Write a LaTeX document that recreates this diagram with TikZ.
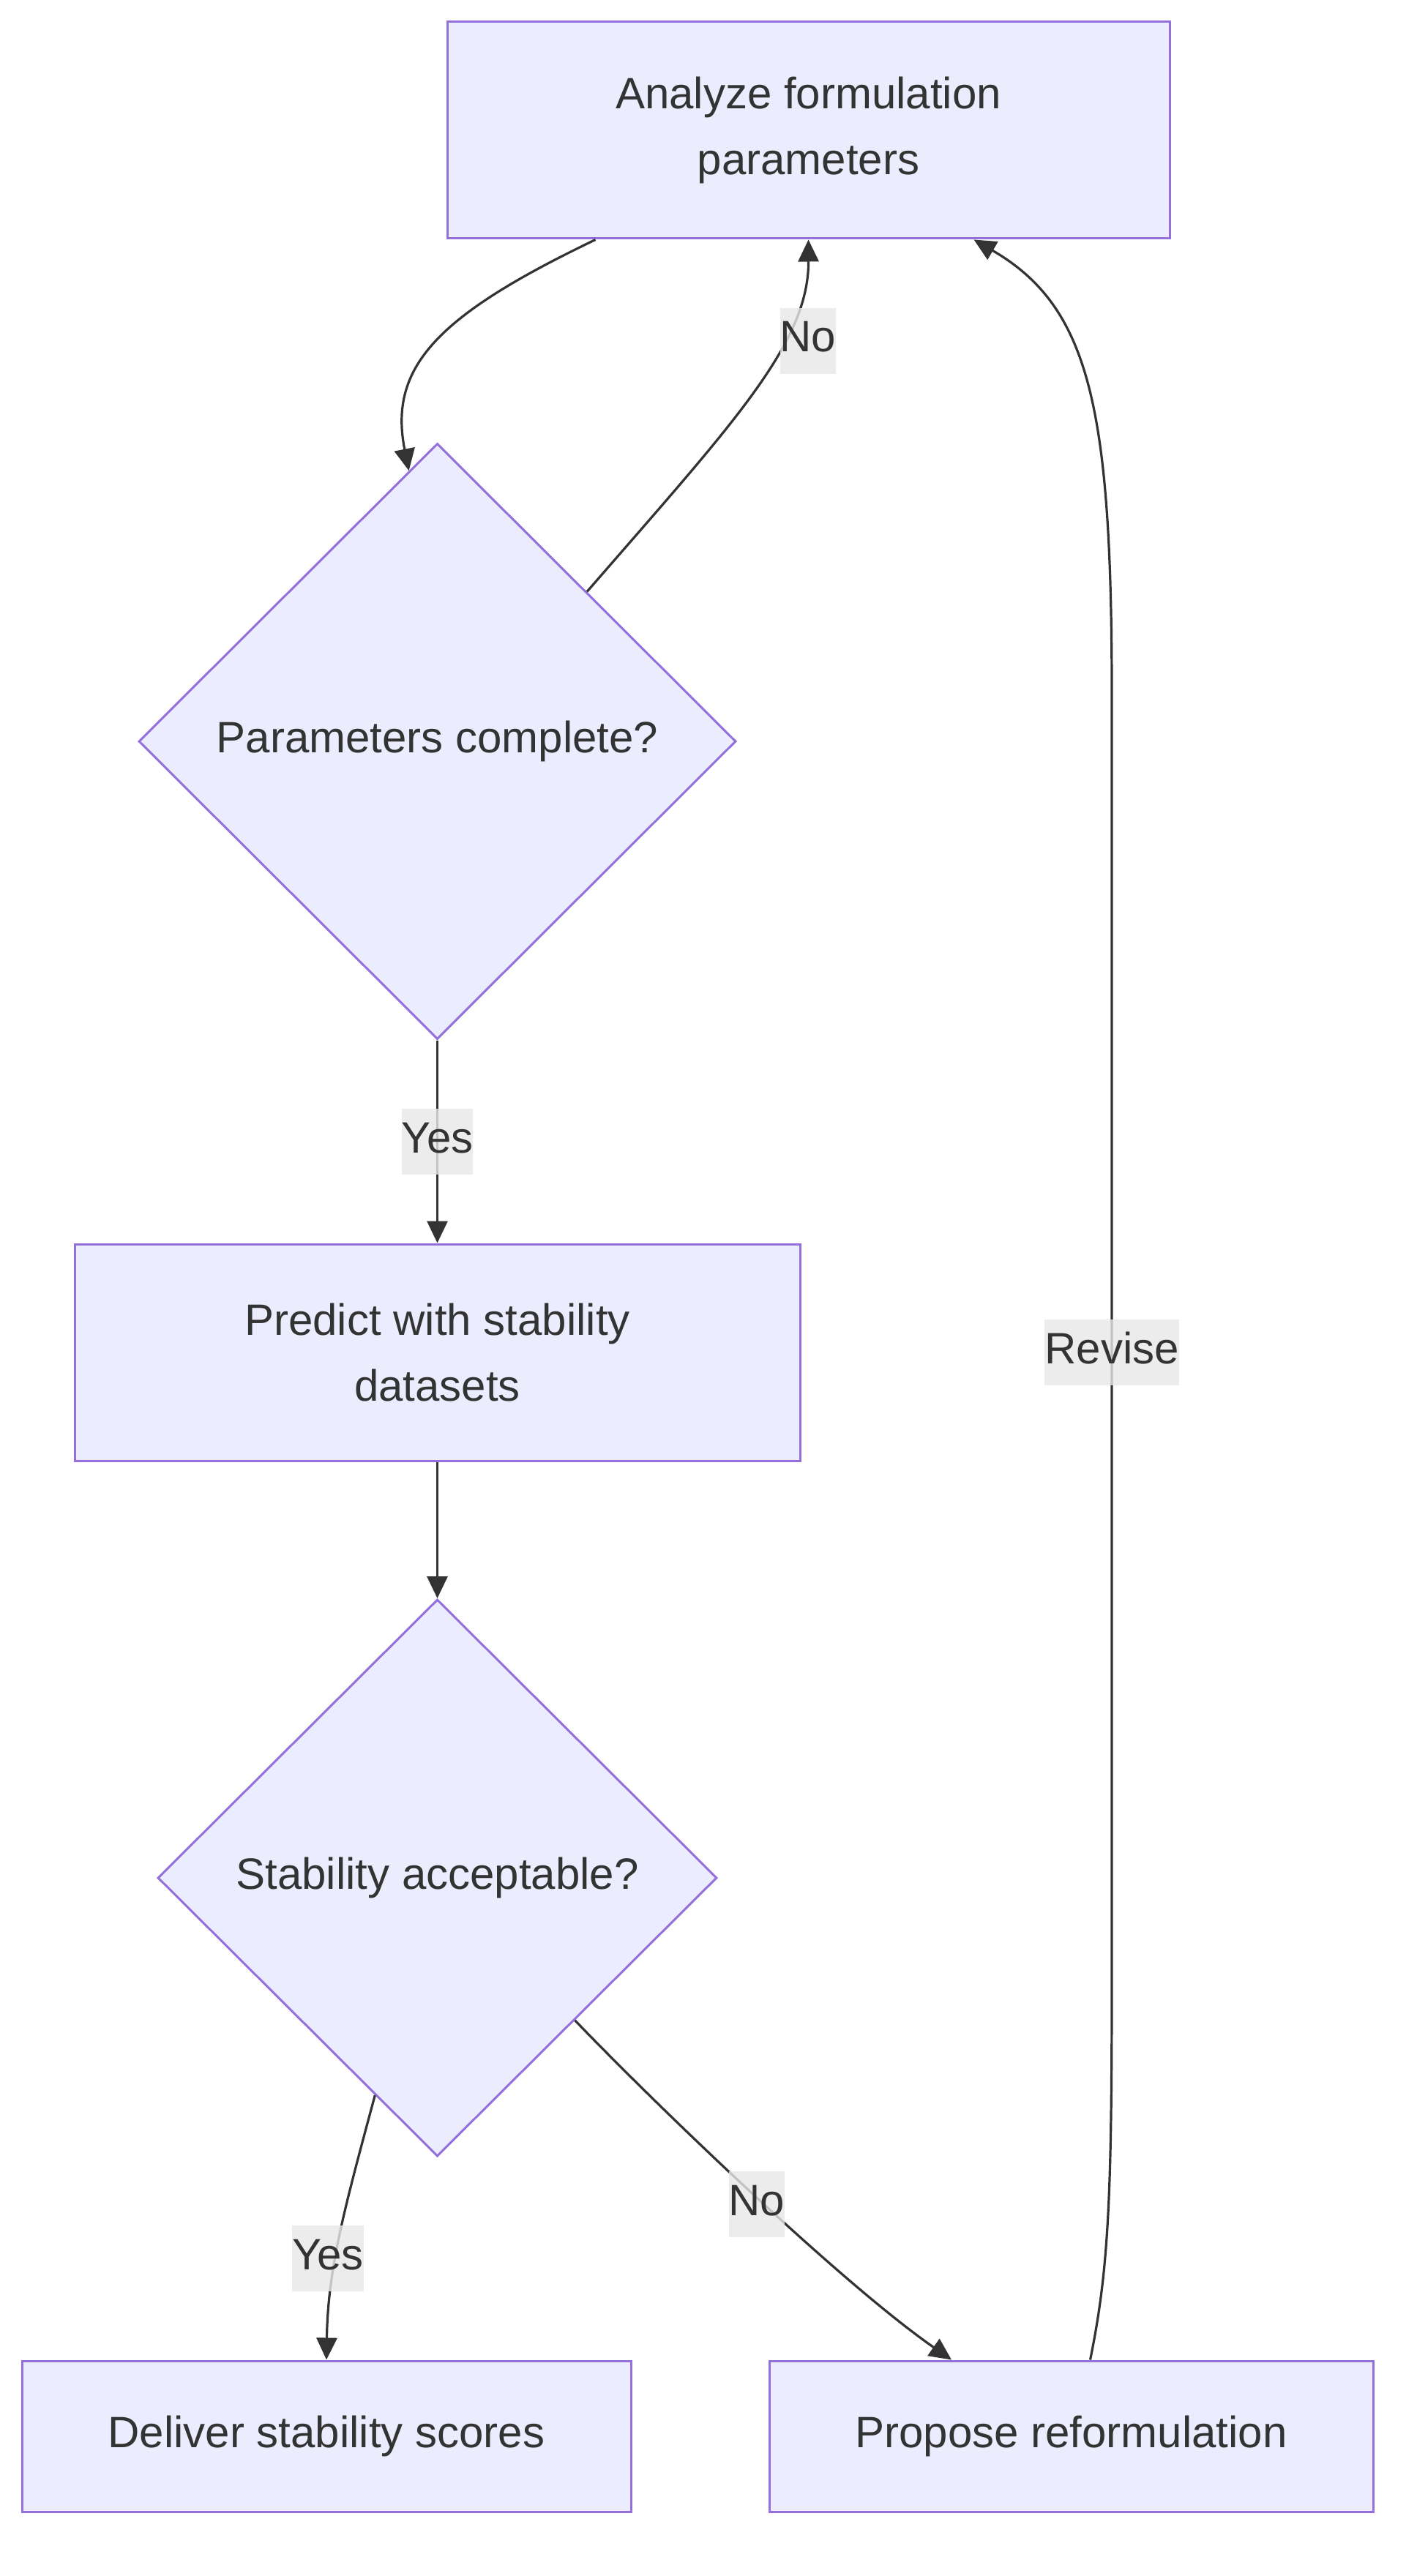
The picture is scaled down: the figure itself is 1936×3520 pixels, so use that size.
\documentclass[tikz,border=0pt]{standalone}
\usepackage{fontspec}
\setmainfont{Liberation Sans}
\usetikzlibrary{shapes.geometric,arrows.meta,calc}
\definecolor{nodefill}{HTML}{ECECFF}
\definecolor{nodeline}{HTML}{9370DB}
\definecolor{edgecol}{HTML}{333333}
\definecolor{lblfill}{HTML}{E8E8E8}
\begin{document}
\begin{tikzpicture}[x=0.5pt,y=-0.5pt,
  font=\fontsize{30pt}{45pt}\selectfont, text=edgecol,
  box/.style={draw=nodeline, fill=nodefill, line width=1.5pt, inner sep=0pt, align=center},
  decision/.style={diamond, draw=nodeline, fill=nodefill, line width=1.5pt, inner sep=0pt},
  edge/.style={draw=edgecol, line width=1.6pt, -{Triangle[length=15pt,width=14pt]}},
  lbl/.style={fill=lblfill, fill opacity=0.8, text opacity=1, inner xsep=0pt, inner ysep=0pt, minimum height=45pt, text height=21.5pt, text depth=6.5pt}]
\path[use as bounding box, fill=white] (0,0) rectangle (1936,3520);

\node[box, minimum width=493.5pt, minimum height=148pt] (A) at (1104.5,178) {Analyze formulation\\parameters};
\node[decision, minimum width=408pt, minimum height=407pt] (D1) at (597.5,1013) {Parameters complete?};
\node[box, minimum width=495.5pt, minimum height=148pt] (B) at (597.5,1848) {Predict with stability\\datasets};
\node[decision, minimum width=382pt, minimum height=380.5pt] (D2) at (597.5,2566) {Stability acceptable?};
\node[box, minimum width=416pt, minimum height=103pt] (C) at (446,3329) {Deliver stability scores};
\node[box, minimum width=412.5pt, minimum height=103pt] (D) at (1463.5,3329) {Propose reformulation};

\draw[edge] ($(A.south)+(-291,0)$) .. controls (600,430) and (530,500) .. (D1.96);
\draw[edge] (D1.45) .. controls (1000,580) and (1105,470) .. (A.south);
\draw[edge] (D1.south) -- (B.north);
\draw[edge] (B.south) -- (D2.north);
\draw[edge] (D2.254) .. controls (470,3020) and (448,3100) .. (C.north);
\draw[edge] (D2.314) .. controls (900,2880) and (1150,3120) .. ($(D.north)+(-163.5,0)$);
\draw[edge] ($(D.north)+(26,0)$) .. controls (1515,3100) and (1519,3000) .. (1519,2700) -- (1519,950) .. controls (1519,560) and (1490,420) .. ($(A.south)+(226,0)$);

\node[lbl] (l1) at (1104,466) {No};
\node[lbl] (l2) at (597.5,1560) {Yes};
\node[lbl] (l3) at (1519,1848) {Revise};
\node[lbl] (l4) at (448,3086) {Yes};
\node[lbl] (l5) at (1034,3012) {No};
\end{tikzpicture}
\end{document}
